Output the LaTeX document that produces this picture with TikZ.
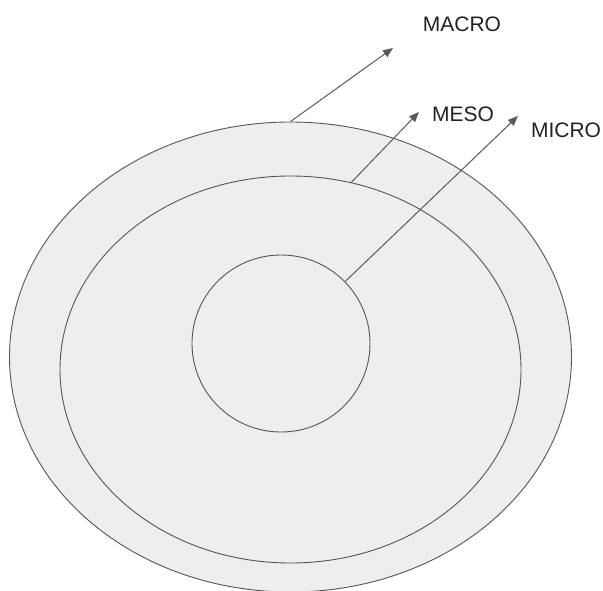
\documentclass[tikz,border=0pt]{standalone}
\usepackage{fontspec}
\setmainfont{Liberation Sans}
\usetikzlibrary{shapes.geometric,arrows.meta}
\definecolor{ringfill}{HTML}{EEEEEE}
\definecolor{ringline}{HTML}{555555}
\definecolor{arrowgray}{HTML}{5A5A5A}
\definecolor{labelcol}{HTML}{222222}
\begin{document}
\begin{tikzpicture}[x=1pt,y=-1pt,
  ring/.style={ellipse,draw=ringline,fill=ringfill,line width=0.9pt,inner sep=0pt},
  pointer/.style={draw=arrowgray,line width=1pt,-{Triangle[length=10pt,width=8pt]}},
  lbl/.style={font=\fontsize{21}{21}\selectfont,text=labelcol,inner sep=0pt}]
\useasboundingbox[fill=white] (0,0) rectangle (603,591);
\node[ring,minimum width=562pt,minimum height=470pt] (outer) at (290.5,357) {};
\node[ring,minimum width=461pt,minimum height=387pt] (middle) at (290.5,369.5) {};
\node[ring,minimum width=178pt,minimum height=177pt] (inner) at (281,343.5) {};
\coordinate (macroend) at (393,48);
\coordinate (mesoend) at (419,112);
\coordinate (microend) at (518,116);
\draw[pointer] (outer.north) -- (macroend);
\draw[pointer] (middle.72) -- (mesoend);
\draw[pointer] (inner.44) -- (microend);
\node[lbl] (macro) at (462,24) {MACRO};
\node[lbl] (meso) at (463,114) {MESO};
\node[lbl] (micro) at (566,130) {MICRO};
\end{tikzpicture}
\end{document}
